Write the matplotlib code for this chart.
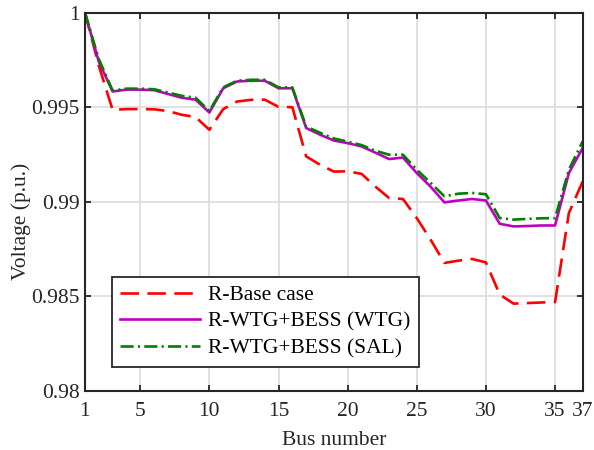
import numpy as np
import matplotlib
matplotlib.use("Agg")
import matplotlib.pyplot as plt

plt.rcParams["font.family"] = ["Liberation Serif", "DejaVu Serif"]
plt.rcParams["mathtext.fontset"] = "stix"

# voltage profile per bus (p.u.)
bus = np.arange(1, 38)
base_case = [1.0, 0.9972, 0.99486, 0.9949, 0.9949, 0.99489, 0.9948, 0.9946, 0.99448, 0.99381,
             0.9949, 0.9953, 0.99539, 0.9954, 0.99502, 0.9950, 0.9924, 0.99196, 0.9916, 0.99161,
             0.99148, 0.99081, 0.9902, 0.99015, 0.98914, 0.988, 0.98677, 0.98689, 0.98698, 0.9868,
             0.9851, 0.98462, 0.98465, 0.98468, 0.9847, 0.98941, 0.99108]
wtg = [1.0, 0.99741, 0.99583, 0.99593, 0.99593, 0.9959, 0.9957, 0.9955, 0.9954, 0.99472,
       0.9960, 0.99636, 0.9964, 0.9964, 0.9960, 0.9960, 0.9939, 0.99355, 0.99324, 0.9931,
       0.99293, 0.9926, 0.99226, 0.99234, 0.99152, 0.9908, 0.98997, 0.99007, 0.99015, 0.99007,
       0.98884, 0.9887, 0.98872, 0.98875, 0.98875, 0.99152, 0.99285]
sal = [1.0, 0.99755, 0.99588, 0.99598, 0.99598, 0.99595, 0.99578, 0.9956, 0.9955, 0.9948,
       0.99605, 0.9964, 0.99645, 0.99645, 0.99605, 0.99605, 0.99398, 0.99365, 0.99335, 0.99318,
       0.993, 0.9927, 0.99249, 0.99249, 0.9917, 0.991, 0.99029, 0.99043, 0.99047, 0.9904,
       0.98914, 0.98906, 0.9891, 0.98913, 0.98914, 0.9917, 0.9932]

xticks = [1, 5, 10, 15, 20, 25, 30, 35, 37]
yticks = [0.98, 0.985, 0.99, 0.995, 1.0]
yticklabels = ["0.98", "0.985", "0.99", "0.995", "1"]

fig = plt.figure(figsize=(5.94, 4.5), dpi=100)
ax = fig.add_axes([0.143, 0.131, 0.838, 0.841])

ax.plot(bus, base_case, color="red", linestyle=(0, (7, 3.2)), linewidth=1.9, label="R-Base case")
ax.plot(bus, wtg, color="#c000c0", linestyle="-", linewidth=1.9, label="R-WTG+BESS (WTG)")
ax.plot(bus, sal, color="#007f00", linestyle=(0, (5, 1.6, 0.8, 1.6)), linewidth=1.9,
        label="R-WTG+BESS (SAL)")

ax.set_xlim(1, 37)
ax.set_ylim(0.98, 1.0)
ax.set_xticks(xticks)
ax.set_yticks(yticks)
ax.set_yticklabels(yticklabels)
ax.grid(True, color="#dcdcdc", linewidth=1.2)
ax.set_axisbelow(True)
ax.tick_params(direction="in", top=True, right=True, length=4, width=1.3,
               labelsize=15.5, colors="#262626")
ax.tick_params(axis="x", pad=8)
ax.tick_params(axis="y", pad=4)
for s in ax.spines.values():
    s.set_linewidth(1.5)
    s.set_color("#262626")

ax.set_xlabel("Bus number", fontsize=15.5, color="#262626", labelpad=7)
ax.set_ylabel("Voltage (p.u.)", fontsize=15.5, color="#262626")
ax.yaxis.set_label_coords(-0.108, 0.449)

leg = ax.legend(loc="upper left", bbox_to_anchor=(0.054, 0.302), borderaxespad=0,
                fontsize=15.5, fancybox=False, framealpha=1, edgecolor="#262626",
                handlelength=3.7, handletextpad=0.35, labelspacing=0.3, borderpad=0.4)
leg.get_frame().set_linewidth(1.3)

fig.savefig("out.png", dpi=100)
